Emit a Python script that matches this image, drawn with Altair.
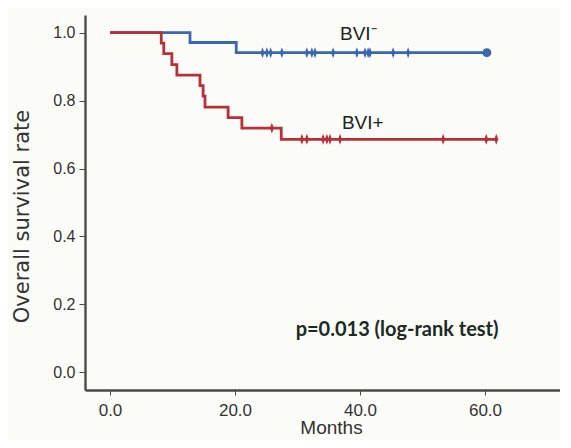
import altair as alt
import pandas as pd

# ---- data ----
series_names = ["BVI⁻", "BVI+"]

blue_times = [0.0, 12.8, 20.2]
blue_surv = [1.0, 0.971, 0.941]
blue_end = 60.3
blue_censor = [24.4, 25.1, 25.7, 27.5, 31.5, 32.3, 32.8, 35.7, 39.5, 40.8, 41.3, 41.6, 45.3, 47.7]
blue_last_censor = [60.3]

red_times = [0.0, 8.2, 8.6, 9.9, 10.7, 14.4, 14.9, 15.2, 18.9, 21.1, 27.4]
red_surv = [1.0, 0.969, 0.938, 0.906, 0.875, 0.844, 0.813, 0.781, 0.750, 0.719, 0.686]
red_end = 61.8
red_censor = [25.9, 30.7, 31.5, 34.1, 34.7, 35.2, 36.8, 53.3, 60.2, 61.8]

x_ticks = [0, 20, 40, 60]
y_ticks = [0.0, 0.2, 0.4, 0.6, 0.8, 1.0]

label_text = ["BVI⁻", "BVI+"]
label_t = [36.8, 37.1]
label_s = [0.996, 0.734]
pval_text = "p=0.013 (log-rank test)"
pval_t = [29.7]
pval_s = [0.126]

BLUE = "#3a67ae"
RED = "#b72f39"
SANS = "Liberation Sans, Arial, Helvetica, sans-serif"


def level(times, surv, t):
    v = surv[0]
    for ti, si in zip(times, surv):
        if ti <= t:
            v = si
    return v


line_rows = []
for name, times, surv, end in [
    (series_names[0], blue_times, blue_surv, blue_end),
    (series_names[1], red_times, red_surv, red_end),
]:
    for t, s in zip(times, surv):
        line_rows.append({"series": name, "t": t, "s": s})
    line_rows.append({"series": name, "t": end, "s": surv[-1]})
lines_df = pd.DataFrame(line_rows)

cens_rows = []
for t in blue_censor:
    cens_rows.append({"series": series_names[0], "t": t, "s": level(blue_times, blue_surv, t)})
for t in red_censor:
    cens_rows.append({"series": series_names[1], "t": t, "s": level(red_times, red_surv, t)})
cens_df = pd.DataFrame(cens_rows)

end_df = pd.DataFrame(
    [{"series": series_names[0], "t": t, "s": level(blue_times, blue_surv, t)} for t in blue_last_censor]
)

labels_df = pd.DataFrame({"label": label_text, "t": label_t, "s": label_s})
pval_df = pd.DataFrame({"label": [pval_text], "t": pval_t, "s": pval_s})

x_enc = alt.X(
    "t:Q",
    scale=alt.Scale(domain=[-4, 72], nice=False, zero=False),
    axis=alt.Axis(
        title="Months",
        values=x_ticks,
        format=".1f",
        grid=False,
        domainColor="#4a4a4a",
        domainWidth=2.4,
        tickColor="#4a4a4a",
        tickSize=5,
        tickWidth=1,
        labelFont=SANS,
        labelFontSize=17,
        labelColor="#333333",
        labelPadding=7,
        titleFont=SANS,
        titleFontSize=19,
        titleFontWeight="normal",
        titleColor="#333333",
        titleX=246,
        titleY=37,
        titleBaseline="middle",
    ),
)
y_enc = alt.Y(
    "s:Q",
    scale=alt.Scale(domain=[-0.052, 1.052], nice=False, zero=False),
    axis=alt.Axis(
        title="Overall survival rate",
        values=y_ticks,
        format=".1f",
        grid=False,
        domainColor="#4a4a4a",
        domainWidth=2.4,
        tickColor="#4a4a4a",
        tickSize=6,
        tickWidth=1,
        labelFont=SANS,
        labelFontSize=16,
        labelColor="#333333",
        labelPadding=4,
        titleFont="DejaVu Sans",
        titleFontSize=21,
        titleFontWeight="normal",
        titleColor="#333333",
        titleX=-63,
        titleY=201,
        titleBaseline="middle",
    ),
)
color_enc = alt.Color(
    "series:N",
    scale=alt.Scale(domain=series_names, range=[BLUE, RED]),
    legend=None,
)

lines = alt.Chart(lines_df).mark_line(interpolate="step-after", strokeWidth=2.8).encode(
    x=x_enc, y=y_enc, color=color_enc
)

diamond = "M0,-1L0.36,0L0,1L-0.36,0Z"
cens = alt.Chart(cens_df).mark_point(shape=diamond, filled=True, size=120, opacity=1).encode(
    x=x_enc, y=y_enc, color=color_enc
)

ends = alt.Chart(end_df).mark_circle(size=80, opacity=1).encode(
    x=x_enc, y=y_enc, color=color_enc
)

labels = alt.Chart(labels_df).mark_text(
    align="left", baseline="middle", font=SANS, fontSize=19, color="#222222"
).encode(x=x_enc, y=y_enc, text="label:N")

pval = alt.Chart(pval_df).mark_text(
    align="left", baseline="middle", font="Lato", fontSize=20, fontWeight="bold", color="#1c2a22"
).encode(x=x_enc, y=y_enc, text="label:N")

chart = (
    alt.layer(lines, cens, ends, labels, pval)
    .properties(
        width=475,
        height=375,
        autosize=alt.AutoSizeParams(type="none"),
        padding={"left": 77, "top": 7, "right": 0, "bottom": 50},
        background="#fbfbf8",
    )
    .configure_view(stroke=None)
)

chart.save("out.html", embed_options={"renderer": "svg", "actions": False})
